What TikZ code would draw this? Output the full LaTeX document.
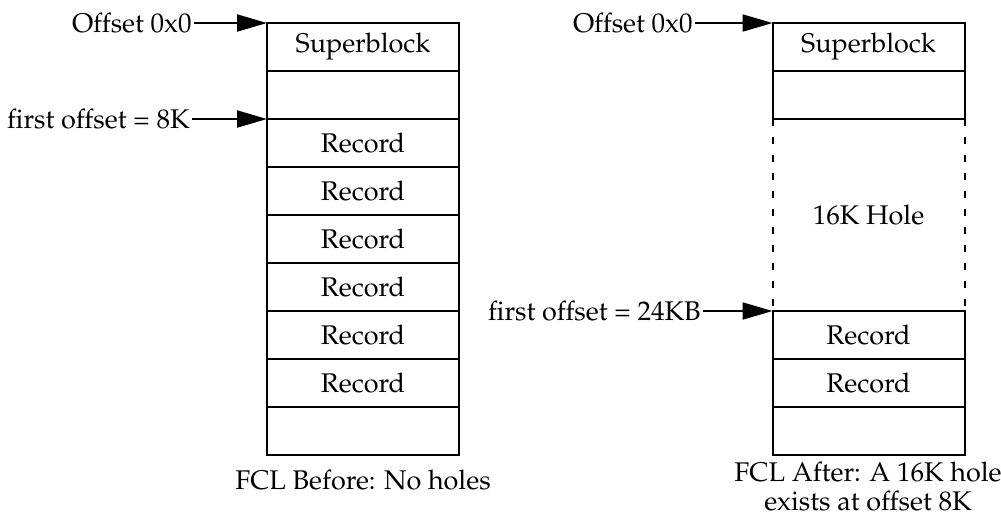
\documentclass[tikz,border=0pt]{standalone}
\usepackage[T1]{fontenc}
\usepackage{mathpazo}
\usepackage{tikz}
\usetikzlibrary{arrows.meta, positioning}
\tikzstyle{cell} = [rectangle, draw=black, line width=1pt, outer sep=0pt, inner sep=0pt, minimum width=96pt, minimum height=24pt, font=\fontsize{13.5pt}{14.5pt}\selectfont]
\tikzstyle{gap} = [rectangle, outer sep=0pt, inner sep=0pt, minimum width=96pt, minimum height=96pt, font=\fontsize{13.5pt}{14.5pt}\selectfont]
\tikzstyle{offtext} = [anchor=east, inner sep=1pt, font=\fontsize{13.5pt}{14.5pt}\selectfont]
\tikzstyle{pointer} = [line width=1pt, -{Triangle[length=15pt, width=8.5pt]}]
\tikzstyle{holeside} = [line width=1pt, dash pattern=on 3.5pt off 5.5pt]

\begin{document}
\begin{tikzpicture}[x=0.5pt, y=-0.5pt]
    \useasboundingbox (0,0) rectangle (1001,516);

    % before
    \node (sbA) [cell] at (363,47) {Superblock};
    \node (padA) [cell, below=0pt of sbA] {};
    \node (recA1) [cell, below=0pt of padA] {Record};
    \node (recA2) [cell, below=0pt of recA1] {Record};
    \node (recA3) [cell, below=0pt of recA2] {Record};
    \node (recA4) [cell, below=0pt of recA3] {Record};
    \node (recA5) [cell, below=0pt of recA4] {Record};
    \node (recA6) [cell, below=0pt of recA5] {Record};
    \node (endA) [cell, below=0pt of recA6] {};

    \node (zeroA) [offtext] at (194,23) {Offset 0x0};
    \node (firstA) [offtext] at (192,119) {first offset = 8K};
    \draw [pointer] (zeroA) -- (sbA.north west);
    \draw [pointer] (firstA) -- (recA1.north west);

    \node (capA) [font=\fontsize{13.5pt}{14.5pt}\selectfont] at (363,480) {FCL Before: No holes};

    % after
    \node (sbB) [cell] at (868.5,47) {Superblock};
    \node (padB) [cell, below=0pt of sbB] {};
    \node (holeB) [gap, below=0pt of padB] {16K Hole};
    \node (recB1) [cell, below=0pt of holeB] {Record};
    \node (recB2) [cell, below=0pt of recB1] {Record};
    \node (endB) [cell, below=0pt of recB2] {};

    \draw [holeside] (holeB.north west) -- (holeB.south west);
    \draw [holeside] (holeB.north east) -- (holeB.south east);

    \node (zeroB) [offtext] at (695,23) {Offset 0x0};
    \node (firstB) [offtext] at (703,311) {first offset = 24KB};
    \draw [pointer] (zeroB) -- (sbB.north west);
    \draw [pointer] (firstB) -- (recB1.north west);

    \node (capB) [align=center, font=\fontsize{13.5pt}{14.5pt}\selectfont] at (868,487) {FCL After: A 16K hole\\exists at offset 8K};
\end{tikzpicture}
\end{document}
